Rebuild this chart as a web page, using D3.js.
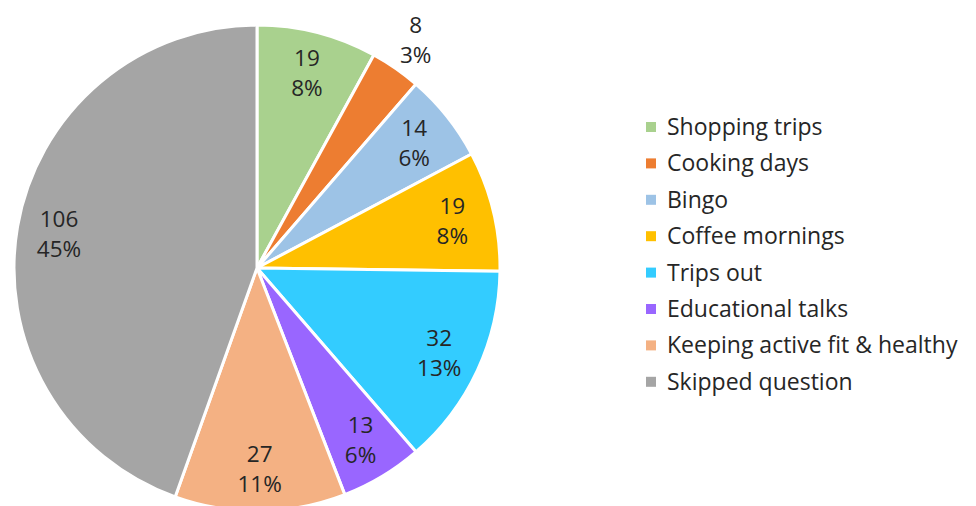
<!DOCTYPE html>
<html><head><meta charset="utf-8">
<script src="https://cdn.jsdelivr.net/npm/d3@7"></script>
<style>body{margin:0;background:#fff}svg{display:block}text{font-family:"Open Sans",sans-serif}</style>
</head><body>
<svg id="c" width="976" height="506"></svg>
<script>
const categories = ["Shopping trips","Cooking days","Bingo","Coffee mornings","Trips out","Educational talks","Keeping active fit & healthy","Skipped question"];
const values = [19, 8, 14, 19, 32, 13, 27, 106];
const colors = ["#A9D18E","#ED7D31","#9DC3E6","#FFC000","#33CCFF","#9966FF","#F4B183","#A5A5A5"];

const svg = d3.select("#c");
const cx = 257, cy = 268, R = 243;
const total = d3.sum(values);

// percentages rounded so they sum to 100 (largest remainder)
const raw = values.map(v => v / total * 100);
const pct = raw.map(Math.floor);
let left = 100 - d3.sum(pct);
raw.map((r,i)=>({i, rem: r - Math.floor(r)})).sort((a,b)=>b.rem-a.rem)
   .slice(0,left).forEach(o => pct[o.i] += 1);

const pie = d3.pie().sort(null).value(d => d.v);
const data = pie(categories.map((c,i)=>({c, v: values[i], col: colors[i], p: pct[i]})));
const arc = d3.arc().innerRadius(0).outerRadius(R);
const g = svg.append("g").attr("transform", `translate(${cx},${cy})`);
g.selectAll("path").data(data).join("path")
  .attr("d", arc).attr("fill", d=>d.data.col)
  .attr("stroke","#fff").attr("stroke-width",3).attr("stroke-linejoin","round");

data.forEach((d,i) => {
  const small = d.value/total < 0.04;
  const r = small ? 278 : 201;
  const a = (d.startAngle + d.endAngle)/2;
  const x = Math.sin(a)*r, y = -Math.cos(a)*r;
  const t = g.append("text").attr("text-anchor","middle").attr("fill","#262626").attr("font-size",22.5);
  t.append("tspan").attr("x",x).attr("y",y-7).text(d.value);
  t.append("tspan").attr("x",x).attr("y",y+23).text(d.data.p + "%");
});

const lg = svg.append("g").attr("transform","translate(646,127)");
const row = lg.selectAll("g").data(categories).join("g").attr("transform",(d,i)=>`translate(0,${i*36.4})`);
row.append("rect").attr("x",0).attr("y",-5).attr("width",10).attr("height",10).attr("fill",(d,i)=>colors[i]);
row.append("text").attr("x",21).attr("y",8).attr("font-size",23).attr("fill","#262626").text(d=>d);
</script>
</body></html>
